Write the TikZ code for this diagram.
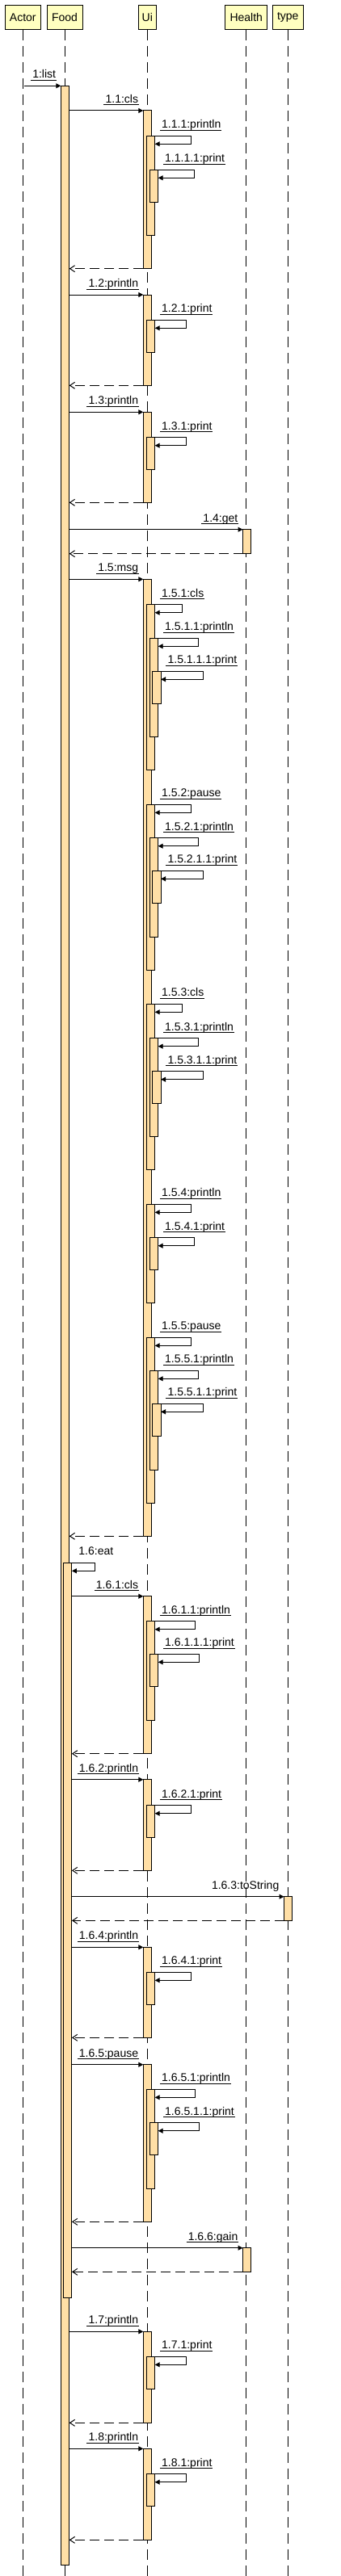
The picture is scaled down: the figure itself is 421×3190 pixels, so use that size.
\documentclass[tikz,border=0pt]{standalone}
\usepackage{fontspec}
\setmainfont{Liberation Sans}
\usetikzlibrary{arrows.meta,calc}
\definecolor{headfill}{RGB}{255,255,192}
\definecolor{actfill}{RGB}{255,223,166}
\tikzset{
  head/.style={draw,fill=headfill,line width=1pt,minimum height=30pt,inner sep=0pt,font=\fontsize{14}{16}\selectfont},
  lifeline/.style={line width=1pt,dash pattern=on 13pt off 7pt},
  actbox/.style={draw,fill=actfill,line width=1pt,minimum width=10.4pt,inner sep=0pt,outer sep=0pt,anchor=north},
  call/.style={line width=1pt,-{Triangle[length=6pt,width=6pt]}},
  ret/.style={line width=1pt,dash pattern=on 12pt off 6pt,-{Straight Barb[length=6pt,width=8pt]}},
  lbl/.style={inner sep=0pt,font=\fontsize{14}{16}\selectfont},
  ulline/.style={line width=1pt}
}
\newcommand\actv[4]{\node[actbox,minimum height={(#4)-(#3)}] (#1) at (#2,-#3) {};}
\newcommand\callm[2]{\draw[call] (#1.east |- #2.north west) -- (#2.north west);}
\newcommand\retm[2]{\draw[ret] (#1.south west) -- (#2.east |- #1.south west);}
\newcommand\selfm[2]{\draw[call] (#1.north east) -- ++(#2,0) -- ++(0,-10) -- ([yshift=-10]#1.north east);}
\newcommand\clab[3]{\node[lbl,anchor=base east] (#1) at ([shift={(-6,9.5)}]#2.north west) {#3};}
\newcommand\slab[3]{\node[lbl,anchor=base west] (#1) at ([shift={(8.3,9.5)}]#2.north east) {#3};}
\newcommand\ulm[1]{\draw[ulline] ([shift={(-2,-2.5)}]#1.base west) -- ([shift={(0.5,-2.5)}]#1.base east);}
\begin{document}
\begin{tikzpicture}[x=1pt,y=1pt]
\fill[white] (0,0) rectangle (421,-3190);
\useasboundingbox (0,0) rectangle (421,-3190);
\coordinate (bottom) at (0,-3190);
% heads
\node[head,minimum width=44pt] (actor) at (28.3,-21.3) {Actor};
\node[head,minimum width=44pt] (food) at (80,-21.3) {Food};
\node[head,minimum width=22pt] (ui) at (182.3,-21.3) {Ui};
\node[head,minimum width=52pt] (health) at (304.8,-21.3) {Health};
\node[head,minimum width=38pt] (typeobj) at (356.3,-21.3) {type};
% lifelines
\foreach \n in {actor,food,ui,health,typeobj}{
  \draw[lifeline] (\n.south) -- (\n.south |- bottom);
}
% activations
\actv{A1}{80.5}{106.3}{3176.7}
\actv{U1}{182.5}{137}{332.7}
\actv{U1a}{186.5}{168.3}{291.3}
\actv{U1b}{190.5}{210.3}{250.3}
\actv{U2}{182.5}{365}{477.3}
\actv{U2a}{186.5}{396.3}{436.7}
\actv{U3}{182.5}{510.3}{622.3}
\actv{U3a}{186.5}{541.7}{581.7}
\actv{H1}{305.7}{655.7}{685.7}
\actv{U5}{182.5}{717.3}{1902.3}
\actv{U5a}{186.5}{748.7}{953.3}
\actv{U5b}{190.5}{790.3}{912.3}
\actv{U5c}{193.9}{831.3}{871.7}
\actv{U52}{186.5}{996.3}{1201.7}
\actv{U52a}{190.5}{1037.7}{1160.3}
\actv{U52b}{193.9}{1078.3}{1118.7}
\actv{U53}{186.5}{1243.3}{1448.3}
\actv{U53a}{190.5}{1285.7}{1407.3}
\actv{U53b}{193.9}{1326.7}{1366.7}
\actv{U54}{186.5}{1491.3}{1613.7}
\actv{U54a}{190.5}{1532.7}{1572.7}
\actv{U55}{186.5}{1656.3}{1861.3}
\actv{U55a}{190.5}{1697.3}{1820.3}
\actv{U55b}{193.9}{1738.3}{1778.7}
\actv{F2}{83.7}{1935.3}{2845.3}
\actv{U6}{182.5}{1976.7}{2171.7}
\actv{U6a}{186.5}{2007.7}{2130.3}
\actv{U6b}{190.5}{2048.3}{2088.3}
\actv{U7}{182.5}{2203.7}{2316.3}
\actv{U7a}{186.5}{2235.7}{2275.3}
\actv{T1}{356.7}{2348.7}{2378.3}
\actv{U8}{182.5}{2411.3}{2523.3}
\actv{U8a}{186.5}{2442.3}{2482.3}
\actv{U9}{182.5}{2556.7}{2751.3}
\actv{U9a}{186.5}{2587.3}{2710.3}
\actv{U9b}{190.5}{2628.7}{2668.3}
\actv{H2}{305.7}{2783.7}{2813.3}
\actv{U10}{182.5}{2887.3}{3000.3}
\actv{U10a}{186.5}{2918.3}{2958.3}
\actv{U11}{182.5}{3032.3}{3145.3}
\actv{U11a}{186.5}{3063.7}{3103.7}
% messages
\draw[call] (actor.south |- A1.north west) ++(2,0) -- (A1.north west);
\clab{l1}{A1}{1:list}
\callm{A1}{U1} \clab{l11}{U1}{1.1:cls}
\selfm{U1a}{45} \slab{l111}{U1a}{1.1.1:println}
\selfm{U1b}{45} \slab{l1111}{U1b}{1.1.1.1:print}
\retm{U1}{A1}
\callm{A1}{U2} \clab{l12}{U2}{1.2:println}
\selfm{U2a}{39} \slab{l121}{U2a}{1.2.1:print}
\retm{U2}{A1}
\callm{A1}{U3} \clab{l13}{U3}{1.3:println}
\selfm{U3a}{39} \slab{l131}{U3a}{1.3.1:print}
\retm{U3}{A1}
\callm{A1}{H1} \clab{l14}{H1}{1.4:get}
\retm{H1}{A1}
\callm{A1}{U5} \clab{l15}{U5}{1.5:msg}
\selfm{U5a}{34} \slab{l151}{U5a}{1.5.1:cls}
\selfm{U5b}{50} \slab{l1511}{U5b}{1.5.1.1:println}
\selfm{U5c}{52} \slab{l15111}{U5c}{1.5.1.1.1:print}
\selfm{U52}{45} \slab{l152}{U52}{1.5.2:pause}
\selfm{U52a}{50} \slab{l1521}{U52a}{1.5.2.1:println}
\selfm{U52b}{52} \slab{l15211}{U52b}{1.5.2.1.1:print}
\selfm{U53}{34} \slab{l153}{U53}{1.5.3:cls}
\selfm{U53a}{50} \slab{l1531}{U53a}{1.5.3.1:println}
\selfm{U53b}{52} \slab{l15311}{U53b}{1.5.3.1.1:print}
\selfm{U54}{45} \slab{l154}{U54}{1.5.4:println}
\selfm{U54a}{45} \slab{l1541}{U54a}{1.5.4.1:print}
\selfm{U55}{45} \slab{l155}{U55}{1.5.5:pause}
\selfm{U55a}{50} \slab{l1551}{U55a}{1.5.5.1:println}
\selfm{U55b}{52} \slab{l15511}{U55b}{1.5.5.1.1:print}
\retm{U5}{A1}
\selfm{F2}{29} \slab{l16}{F2}{1.6:eat}
\callm{F2}{U6} \clab{l161}{U6}{1.6.1:cls}
\selfm{U6a}{50} \slab{l1611}{U6a}{1.6.1.1:println}
\selfm{U6b}{51} \slab{l16111}{U6b}{1.6.1.1.1:print}
\retm{U6}{F2}
\callm{F2}{U7} \clab{l162}{U7}{1.6.2:println}
\selfm{U7a}{45} \slab{l1621}{U7a}{1.6.2.1:print}
\retm{U7}{F2}
\callm{F2}{T1} \clab{l163}{T1}{1.6.3:toString}
\retm{T1}{F2}
\callm{F2}{U8} \clab{l164}{U8}{1.6.4:println}
\selfm{U8a}{45} \slab{l1641}{U8a}{1.6.4.1:print}
\retm{U8}{F2}
\callm{F2}{U9} \clab{l165}{U9}{1.6.5:pause}
\selfm{U9a}{50} \slab{l1651}{U9a}{1.6.5.1:println}
\selfm{U9b}{51} \slab{l16511}{U9b}{1.6.5.1.1:print}
\retm{U9}{F2}
\callm{F2}{H2} \clab{l166}{H2}{1.6.6:gain}
\retm{H2}{F2}
\callm{A1}{U10} \clab{l17}{U10}{1.7:println}
\selfm{U10a}{39} \slab{l171}{U10a}{1.7.1:print}
\retm{U10}{A1}
\callm{A1}{U11} \clab{l18}{U11}{1.8:println}
\selfm{U11a}{39} \slab{l181}{U11a}{1.8.1:print}
\retm{U11}{A1}
% underlines
\foreach \n in {l1,l11,l111,l1111,l12,l121,l13,l131,l14,l15,l151,l1511,l15111,l152,l1521,l15211,l153,l1531,l15311,l154,l1541,l155,l1551,l15511,l161,l1611,l16111,l162,l1621,l164,l1641,l165,l1651,l16511,l166,l17,l171,l18,l181}{
  \ulm{\n}
}
\end{tikzpicture}
\end{document}
